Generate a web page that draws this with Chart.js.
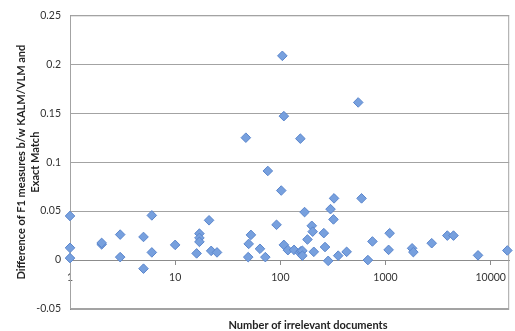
<!DOCTYPE html>
<html>
<head>
<meta charset="utf-8">
<script src="https://cdn.jsdelivr.net/npm/chart.js@4/dist/chart.umd.min.js"></script>
<style>
  html, body { margin: 0; padding: 0; background: #fff; }
  canvas { display: block; }
</style>
</head>
<body>
<canvas id="scatterChart" width="515" height="331"></canvas>
<script>
// number of irrelevant documents (x) and F1 difference (y)
const docCounts = [
  1, 1, 1, 2, 2, 3, 3, 5, 5, 6, 6, 10,
  16, 17, 17, 17, 21, 22, 25,
  47, 49.5, 50, 52.5, 64, 72, 76, 92,
  102, 104.5, 108, 108, 118, 135, 153, 155, 157, 162, 162,
  170, 181, 199, 203, 208, 259, 266, 285, 300, 320, 324, 355, 427,
  550, 592, 680, 751, 1070, 1095, 1790, 1840, 2750, 3870, 4430, 7580, 14400
];
const f1Diffs = [
  0.045, 0.0125, 0.002, 0.016, 0.0175, 0.026, 0.003, 0.0236, -0.0088, 0.0456, 0.0078, 0.0155,
  0.0068, 0.027, 0.0226, 0.0186, 0.0406, 0.0094, 0.0078,
  0.125, 0.003, 0.0165, 0.0257, 0.0115, 0.003, 0.091, 0.036,
  0.071, 0.2086, 0.147, 0.0155, 0.0101, 0.0104, 0.0075, 0.124, 0.009, 0.0095, 0.0045,
  0.049, 0.021, 0.035, 0.029, 0.0084, 0.0275, 0.0133, -0.0008, 0.052, 0.0415, 0.063, 0.0045, 0.0084,
  0.161, 0.063, 0.0, 0.019, 0.0104, 0.0274, 0.012, 0.0081, 0.0172, 0.025, 0.025, 0.0048, 0.0098
];
const xTickValues = [1, 10, 100, 1000, 10000];
const yTickValues = [-0.05, 0, 0.05, 0.1, 0.15, 0.2, 0.25];

const points = docCounts.map((x, i) => ({ x: x, y: f1Diffs[i] }));

const FONT = "Lato, 'Liberation Sans', sans-serif";

// plot frame + bottom axis title
const framePlugin = {
  id: "frame",
  beforeDatasetsDraw(chart) {
    const { ctx, chartArea } = chart;
    ctx.save();
    ctx.strokeStyle = "#a3a3a3";
    ctx.lineWidth = 1;
    ctx.strokeRect(chartArea.left + 0.5, chartArea.top + 0.5,
      chartArea.right - chartArea.left - 1, chartArea.bottom - chartArea.top - 1);
    ctx.restore();
  },
  afterDraw(chart) {
    const { ctx } = chart;
    ctx.save();
    ctx.font = "bold 11px " + FONT;
    ctx.fillStyle = "#222";
    ctx.textAlign = "center";
    ctx.textBaseline = "middle";
    ctx.fillText("Number of irrelevant documents", 308, 325);
    ctx.restore();
  }
};

const ctx = document.getElementById("scatterChart").getContext("2d");
const chart = new Chart(ctx, {
  type: "scatter",
  data: {
    datasets: [
      {
        data: points,
        pointStyle: "rectRot",
        pointRadius: 4.8,
        backgroundColor: "#77a0de",
        borderColor: "#5b86cc",
        borderWidth: 1,
        clip: false,
      },
    ],
  },
  options: {
    responsive: false,
    animation: false,
    devicePixelRatio: 1,
    layout: {
      padding: { top: 12, right: 3, bottom: 22, left: 0 },
    },
    plugins: {
      legend: { display: false },
      tooltip: { enabled: false },
    },
    scales: {
      x: {
        type: "logarithmic",
        position: { y: 0 },
        min: 1,
        max: 15000,
        afterBuildTicks: (scale) => {
          scale.ticks = xTickValues.map((v) => ({ value: v }));
        },
        ticks: {
          color: "#333",
          font: { family: FONT, size: 10.5 },
          padding: 7,
          maxRotation: 0,
          autoSkip: false,
          callback: (v) => String(v),
        },
        grid: {
          drawOnChartArea: false,
          drawTicks: true,
          tickLength: 4,
          color: "#8c8c8c",
        },
        border: { color: "#8c8c8c" },
      },
      y: {
        min: -0.05,
        max: 0.25,
        afterBuildTicks: (scale) => {
          scale.ticks = yTickValues.map((v) => ({ value: v }));
        },
        afterFit: (scale) => {
          scale.width = 70;
        },
        ticks: {
          color: "#333",
          font: { family: FONT, size: 10.5 },
          padding: 9,
          callback: (v) => String(Math.round(v * 100) / 100),
        },
        grid: {
          color: "#a3a3a3",
          drawTicks: false,
        },
        border: { color: "#8c8c8c" },
        title: {
          display: true,
          text: ["Difference of F1 measures b/w KALM/VLM and", "Exact Match"],
          color: "#222",
          font: { family: FONT, size: 11, weight: "bold", lineHeight: 1.27 },
          padding: { top: 14, bottom: 0 },
        },
      },
    },
  },
  plugins: [framePlugin],
});
</script>
</body>
</html>
